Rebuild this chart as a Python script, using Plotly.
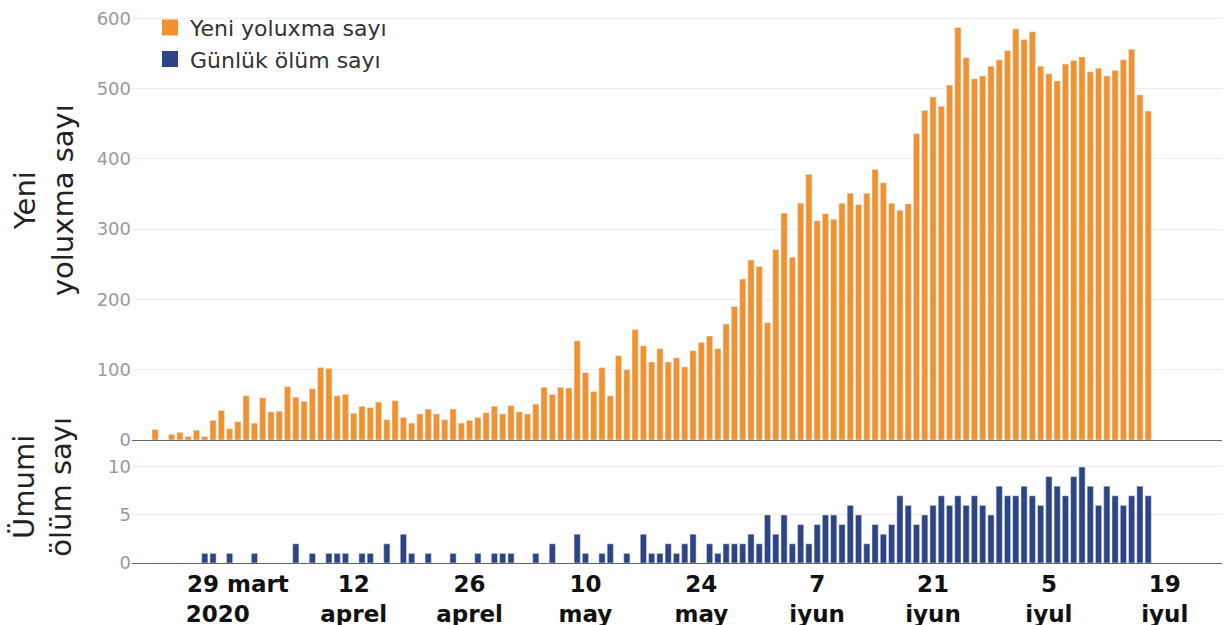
import pandas as pd
import plotly.graph_objects as go

# ---- data (daily values, 2020-03-19 .. 2020-07-17) ----
start_date = "2020-03-19"
new_cases = [
    15, 0, 8, 11, 5, 14, 5, 28, 42, 16,
    26, 63, 24, 60, 40, 41, 76, 61, 55, 73,
    103, 102, 63, 65, 38, 48, 46, 54, 29, 56,
    32, 24, 37, 44, 37, 29, 44, 24, 28, 32,
    39, 48, 37, 49, 40, 37, 51, 75, 65, 75,
    74, 141, 96, 69, 103, 63, 120, 100, 157, 134,
    111, 130, 111, 117, 104, 127, 139, 148, 130, 165,
    190, 229, 256, 247, 167, 271, 323, 260, 337, 378,
    312, 322, 314, 337, 351, 335, 351, 385, 366, 337,
    327, 336, 436, 469, 488, 475, 505, 587, 544, 514,
    518, 532, 541, 554, 585, 570, 581, 532, 521, 511,
    535, 540, 545, 524, 529, 518, 526, 541, 556, 491,
    468,
]
daily_deaths = [
    0, 0, 0, 0, 0, 0, 1, 1, 0, 1,
    0, 0, 1, 0, 0, 0, 0, 2, 0, 1,
    0, 1, 1, 1, 0, 1, 1, 0, 2, 0,
    3, 1, 0, 1, 0, 0, 1, 0, 0, 1,
    0, 1, 1, 1, 0, 0, 1, 0, 2, 0,
    0, 3, 1, 0, 1, 2, 0, 1, 0, 3,
    1, 1, 2, 1, 2, 3, 0, 2, 1, 2,
    2, 2, 3, 2, 5, 3, 5, 2, 4, 2,
    4, 5, 5, 4, 6, 5, 2, 4, 3, 4,
    7, 6, 4, 5, 6, 7, 6, 7, 6, 7,
    6, 5, 8, 7, 7, 8, 7, 6, 9, 8,
    7, 9, 10, 8, 6, 8, 7, 6, 7, 8,
    7,
]
tick_dates = ["2020-03-29", "2020-04-12", "2020-04-26", "2020-05-10",
              "2020-05-24", "2020-06-07", "2020-06-21", "2020-07-05",
              "2020-07-19"]
tick_labels = ["29 mart<br>2020" + "\u00a0" * 5, "12<br>aprel", "26<br>aprel",
               "10<br>may", "24<br>may", "7<br>iyun", "21<br>iyun",
               "5<br>iyul", "19<br>iyul"]

series_names = ["Yeni yoluxma sayı", "Günlük ölüm sayı"]
cases_title = "Yeni<br>yoluxma sayı"
deaths_title = "Ümumi<br>ölüm sayı"

dates = pd.date_range(start_date, periods=len(new_cases), freq="D")

ORANGE = "#F2922F"
NAVY = "#2D4485"
FONT = "DejaVu Sans"

fig = go.Figure()
fig.add_trace(go.Bar(x=dates, y=new_cases, marker_color=ORANGE,
                     xaxis="x", yaxis="y", showlegend=False,
                     name=series_names[0]))
fig.add_trace(go.Bar(x=dates, y=daily_deaths, marker_color=NAVY,
                     xaxis="x2", yaxis="y2", showlegend=False,
                     name=series_names[1]))
# legend entries
for nm, col in zip(series_names, [ORANGE, NAVY]):
    fig.add_trace(go.Scatter(x=[None], y=[None], mode="markers", name=nm,
                             marker=dict(symbol="square", size=20, color=col),
                             xaxis="x", yaxis="y"))

xrange = ["2020-03-16 05:00", "2020-07-25 22:00"]
grid = "#ececec"
fig.update_layout(
    width=1225, height=625,
    margin=dict(l=132, r=3, t=5, b=62),
    plot_bgcolor="white", paper_bgcolor="white",
    bargap=0.25,
    font=dict(family=FONT),
    xaxis=dict(domain=[0, 1], anchor="y", type="date", range=xrange,
               showticklabels=False, showgrid=False, automargin=False,
               showline=True, linecolor="#666", linewidth=1,
               tickvals=tick_dates, ticks=""),
    xaxis2=dict(domain=[0, 1], anchor="y2", type="date", range=xrange,
                matches="x", showgrid=False, automargin=False,
                showline=True, linecolor="#666", linewidth=1,
                tickvals=tick_dates, ticktext=tick_labels, ticks="",
                tickangle=0,
                tickfont=dict(family=FONT, size=23, color="#111", weight="bold")),
    yaxis=dict(domain=[0.2204, 1], anchor="x", range=[0, 619],
               tickvals=[0, 100, 200, 300, 400, 500, 600],
               showgrid=True, gridcolor=grid, gridwidth=1, automargin=False,
               zeroline=False, ticks="",
               tickfont=dict(family=FONT, size=18, color="#9a9a9a")),
    yaxis2=dict(domain=[0, 0.1989], anchor="x2", range=[0, 11.56],
                tickvals=[0, 5, 10],
                showgrid=True, gridcolor=grid, gridwidth=1, automargin=False,
                zeroline=False, ticks="",
                tickfont=dict(family=FONT, size=18, color="#9a9a9a")),
    legend=dict(x=0.0165, y=0.997, xanchor="left", yanchor="top",
                bgcolor="rgba(255,255,255,0)",
                font=dict(family=FONT, size=22, color="#333"),
                itemsizing="trace"),
    annotations=[
        dict(text=cases_title, xref="paper", yref="paper",
             x=-0.080, y=0.65, xanchor="center", yanchor="middle",
             textangle=-90, showarrow=False,
             font=dict(family=FONT, size=29, color="#222")),
        dict(text=deaths_title, xref="paper", yref="paper",
             x=-0.082, y=0.136, xanchor="center", yanchor="middle",
             textangle=-90, showarrow=False,
             font=dict(family=FONT, size=29, color="#222")),
    ],
)

fig.write_html("out.html",
               config={"displayModeBar": False},
               post_script="document.body.style.margin='0';"
                           "document.body.style.overflow='hidden';")
